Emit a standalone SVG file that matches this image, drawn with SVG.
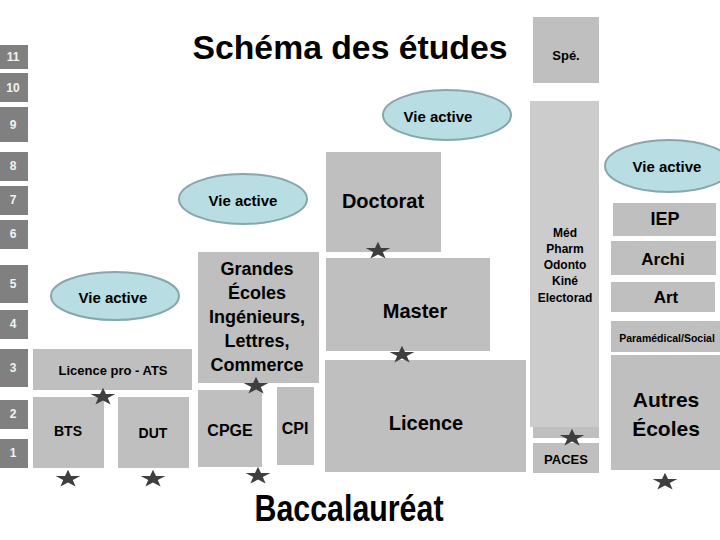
<svg xmlns="http://www.w3.org/2000/svg" width="720" height="540" viewBox="0 0 720 540">
<defs>
<style>
text{font-family:"Liberation Sans",Arial,sans-serif;font-weight:bold;text-anchor:middle;dominant-baseline:central;fill:#000}
.yr rect{fill:#808080}
.yr text{fill:#f2f2f2;font-size:12px}
.box{fill:#bfbfbf}
.lt{fill:#cccccc}
.ell{fill:#b8dde2;stroke:#88a6ab;stroke-width:2}
.star{fill:#3f3f3f}
</style>
<path id="st" d="M0,-13 L3,-4 L12.4,-4 L4.8,1.5 L7.6,10.5 L0,5 L-7.6,10.5 L-4.8,1.5 L-12.4,-4 L-3,-4 Z" transform="scale(1,0.72)"/>
</defs>
<rect width="720" height="540" fill="#fff"/>
<g id="years" class="yr">
<g id="y11"><rect x="0" y="45" width="28" height="24"/><text x="13" y="57">11</text></g>
<g id="y10"><rect x="0" y="73" width="28" height="29"/><text x="13" y="88">10</text></g>
<g id="y9"><rect x="0" y="107" width="28" height="35"/><text x="13" y="125">9</text></g>
<g id="y8"><rect x="0" y="152" width="28" height="29"/><text x="13" y="166">8</text></g>
<g id="y7"><rect x="0" y="186" width="28" height="29"/><text x="13" y="200">7</text></g>
<g id="y6"><rect x="0" y="220" width="28" height="29"/><text x="13" y="234">6</text></g>
<g id="y5"><rect x="0" y="265" width="28" height="38"/><text x="13" y="284">5</text></g>
<g id="y4"><rect x="0" y="310" width="28" height="29"/><text x="13" y="324">4</text></g>
<g id="y3"><rect x="0" y="349" width="28" height="38"/><text x="13" y="368">3</text></g>
<g id="y2"><rect x="0" y="400" width="28" height="29"/><text x="13" y="414">2</text></g>
<g id="y1"><rect x="0" y="439" width="28" height="29"/><text x="13" y="453">1</text></g>
</g>
<g id="title"><text x="350" y="47" style="font-size:33px" textLength="315" lengthAdjust="spacingAndGlyphs">Schéma des études</text></g>
<g id="bac"><text x="349" y="508" style="font-size:36px" textLength="189" lengthAdjust="spacingAndGlyphs">Baccalauréat</text></g>
<g id="spe"><rect class="box" x="533" y="17" width="66" height="66"/><text x="566" y="55" style="font-size:13px">Spé.</text></g>
<g id="med"><rect class="lt" x="530" y="101" width="69" height="326"/><rect class="box" x="533" y="427" width="66" height="11"/>
<text style="font-size:12px"><tspan x="565" y="233">Méd</tspan><tspan x="565" y="249">Pharm</tspan><tspan x="565" y="265">Odonto</tspan><tspan x="565" y="281">Kiné</tspan><tspan x="565" y="298">Electorad</tspan></text></g>
<g id="paces"><rect class="box" x="533" y="443" width="66" height="30"/><text x="566" y="459" style="font-size:13px">PACES</text></g>
<g id="doctorat"><rect class="box" x="326" y="152" width="115" height="100"/><text x="383" y="201" style="font-size:20px">Doctorat</text></g>
<g id="master"><rect class="box" x="326" y="258" width="164" height="93"/><text x="415" y="311" style="font-size:20px">Master</text></g>
<g id="licence"><rect class="box" x="325" y="360" width="201" height="112"/><text x="426" y="423" style="font-size:20px">Licence</text></g>
<g id="grandes"><rect class="box" x="198" y="252" width="121" height="131"/>
<text style="font-size:18px"><tspan x="257" y="269">Grandes</tspan><tspan x="257" y="293">Écoles</tspan><tspan x="257" y="317">Ingénieurs,</tspan><tspan x="257" y="341">Lettres,</tspan><tspan x="257" y="365">Commerce</tspan></text></g>
<g id="cpge"><rect class="box" x="198" y="390" width="64" height="77"/><text x="230" y="430" style="font-size:16px">CPGE</text></g>
<g id="cpi"><rect class="box" x="277" y="387" width="37" height="78"/><text x="295" y="428" style="font-size:16px">CPI</text></g>
<g id="lpro"><rect class="box" x="33" y="349" width="159" height="41"/><text x="113" y="370" style="font-size:13px">Licence pro - ATS</text></g>
<g id="bts"><rect class="box" x="33" y="397" width="71" height="71"/><text x="68" y="431" style="font-size:14px">BTS</text></g>
<g id="dut"><rect class="box" x="118" y="397" width="71" height="71"/><text x="153" y="433" style="font-size:14px">DUT</text></g>
<g id="iep"><rect class="box" x="613" y="203" width="103" height="33"/><text x="665" y="219" style="font-size:18px">IEP</text></g>
<g id="archi"><rect class="box" x="611" y="241" width="105" height="34"/><text x="663" y="259" style="font-size:17px">Archi</text></g>
<g id="art"><rect class="box" x="611" y="282" width="104" height="30"/><text x="666" y="297" style="font-size:17px">Art</text></g>
<g id="para"><rect class="box" x="611" y="321" width="109" height="31"/><text x="667" y="338" style="font-size:10.5px">Paramédical/Social</text></g>
<g id="autres"><rect class="box" x="611" y="355" width="109" height="115"/>
<text style="font-size:21px"><tspan x="666" y="399">Autres</tspan><tspan x="666" y="428">Écoles</tspan></text></g>
<g id="va1"><ellipse class="ell" cx="243" cy="199" rx="64" ry="25"/><text x="243" y="200" style="font-size:15px">Vie active</text></g>
<g id="va2"><ellipse class="ell" cx="447" cy="115" rx="64" ry="25"/><text x="438" y="116" style="font-size:15px">Vie active</text></g>
<g id="va3"><ellipse class="ell" cx="669" cy="166" rx="64" ry="26"/><text x="667" y="166" style="font-size:15px">Vie active</text></g>
<g id="va4"><ellipse class="ell" cx="115" cy="296" rx="64" ry="24"/><text x="113" y="297" style="font-size:15px">Vie active</text></g>
<g id="connectors" class="star">
<use href="#st" x="378" y="251"/>
<use href="#st" x="402" y="355"/>
<use href="#st" x="256" y="386"/>
<use href="#st" x="103" y="397"/>
<use href="#st" x="68" y="479"/>
<use href="#st" x="153" y="479"/>
<use href="#st" x="258" y="476"/>
<use href="#st" x="572" y="438"/>
<use href="#st" x="665" y="482"/>
</g>
</svg>
